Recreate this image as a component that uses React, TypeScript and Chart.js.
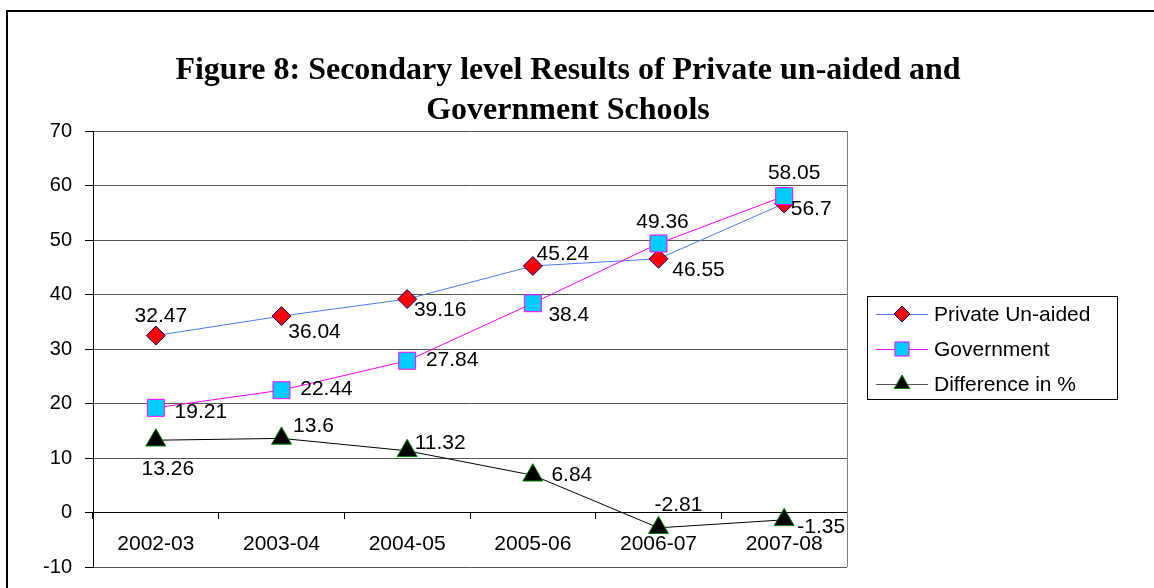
import React, { useEffect, useRef } from 'react';
import { Chart, registerables } from 'chart.js';
import { drawPoint } from 'chart.js/helpers';

Chart.register(...registerables);

const titleLines = ['Figure 8: Secondary level Results of Private un-aided and', 'Government Schools'];
const categories = ['2002-03', '2003-04', '2004-05', '2005-06', '2006-07', '2007-08'];
const seriesNames = ['Private Un-aided', 'Government', 'Difference in %'];
const privateUnaided = [32.47, 36.04, 39.16, 45.24, 46.55, 56.7];
const government = [19.21, 22.44, 27.84, 38.4, 49.36, 58.05];
const difference = [13.26, 13.6, 11.32, 6.84, -2.81, -1.35];
const yMin = -10;
const yMax = 70;
const yStep = 10;

// label placement (style only): offsets of each data label from its point
const labelOffsets = [
  [[5, -19], [33, 16], [33, 11], [30, -12], [40, 11], [27, 6]],
  [[45, 4], [45, -1], [45, -1], [36, 12], [4, -21], [10, -23]],
  [[12, 29], [32, -12], [33, -8], [39, 0], [20, -23], [37, 7]],
];

const SANS = '"Liberation Sans", Arial, sans-serif';
const SERIF = '"Liberation Serif", "Times New Roman", serif';

const styles = [
  { line: '#5078F0', fill: '#FF0000', border: '#000080', pointStyle: 'rectRot', radius: 9.5, legendRadius: 8 },
  { line: '#FF00FF', fill: '#00CCFF', border: '#FF00FF', pointStyle: 'rect', radius: 12, legendRadius: 10 },
  { line: '#000000', fill: '#000000', border: '#008000', pointStyle: 'triangle', radius: 11.5, legendRadius: 9 },
];

const decorPlugin = {
  id: 'decor',
  beforeDraw(chart: any) {
    const ctx = chart.ctx;
    ctx.save();
    ctx.strokeStyle = '#000';
    ctx.lineWidth = 2;
    ctx.beginPath();
    ctx.moveTo(7, 600);
    ctx.lineTo(7, 11);
    ctx.lineTo(1160, 11);
    ctx.stroke();
    // title
    ctx.fillStyle = '#000';
    ctx.font = 'bold 32px ' + SERIF;
    ctx.textAlign = 'center';
    ctx.textBaseline = 'alphabetic';
    ctx.fillText(titleLines[0], 568, 79);
    ctx.fillText(titleLines[1], 568, 119);
    ctx.restore();
  },
  afterDraw(chart: any) {
    const ctx = chart.ctx;
    const a = chart.chartArea;
    ctx.save();
    ctx.strokeStyle = '#808080';
    ctx.lineWidth = 1;
    ctx.beginPath();
    ctx.moveTo(Math.round(a.right) + 0.5, a.top);
    ctx.lineTo(Math.round(a.right) + 0.5, a.bottom);
    ctx.stroke();

    // data labels
    ctx.fillStyle = '#000';
    ctx.font = '21px ' + SANS;
    ctx.textAlign = 'center';
    ctx.textBaseline = 'middle';
    chart.data.datasets.forEach((ds: any, di: number) => {
      const meta = chart.getDatasetMeta(di);
      meta.data.forEach((pt: any, i: number) => {
        const off = labelOffsets[di][i];
        ctx.fillText(String(ds.data[i]), pt.x + off[0], pt.y + off[1]);
      });
    });

    // legend
    const lx = 867, ly = 296, lw = 250, lh = 103;
    ctx.strokeStyle = '#000';
    ctx.lineWidth = 1;
    ctx.strokeRect(lx + 0.5, ly + 0.5, lw, lh);
    const rows = [314, 349, 384];
    ctx.font = '21px ' + SANS;
    ctx.textAlign = 'left';
    ctx.textBaseline = 'middle';
    seriesNames.forEach((name, i) => {
      const s = styles[i];
      const y = rows[i];
      ctx.strokeStyle = i === 2 ? '#555' : s.line;
      ctx.lineWidth = 1;
      ctx.beginPath();
      ctx.moveTo(876, y + 0.5);
      ctx.lineTo(928, y + 0.5);
      ctx.stroke();
      ctx.fillStyle = s.fill;
      ctx.strokeStyle = s.border;
      drawPoint(ctx, { pointStyle: s.pointStyle, radius: s.legendRadius, rotation: 0, borderWidth: 1 } as any, 902, y);
      ctx.fillStyle = '#000';
      ctx.fillText(name, 934, y + 1);
    });
    ctx.restore();
  },
};

export default function App() {
  const ref = useRef<HTMLCanvasElement | null>(null);
  useEffect(() => {
    if (!ref.current) return;
    const seriesData = [privateUnaided, government, difference];
    const chart = new Chart(ref.current, {
      type: 'line',
      data: {
        labels: categories,
        datasets: seriesData.map((d, i) => ({
          label: seriesNames[i],
          data: d,
          borderColor: styles[i].line,
          borderWidth: 1,
          backgroundColor: styles[i].fill,
          pointBackgroundColor: styles[i].fill,
          pointBorderColor: styles[i].border,
          pointBorderWidth: 1,
          pointStyle: styles[i].pointStyle as any,
          pointRadius: styles[i].radius,
          tension: 0,
          fill: false,
          order: 3 - i,
        })),
      },
      options: {
        animation: false,
        responsive: true,
        maintainAspectRatio: false,
        layout: { padding: { left: 0, right: 307, top: 131, bottom: 18 } },
        plugins: { legend: { display: false }, title: { display: false }, tooltip: { enabled: false } },
        scales: {
          x: {
            type: 'category',
            position: { y: 0 } as any,
            offset: true,
            grid: { display: true, drawOnChartArea: false, drawTicks: true, tickLength: 6, offset: true, color: '#000', tickColor: '#000' },
            border: { display: true, color: '#000', width: 1 },
            ticks: { color: '#000', font: { family: SANS, size: 21 }, padding: 13, maxRotation: 0, autoSkip: false },
          },
          y: {
            min: yMin,
            max: yMax,
            afterFit: (s: any) => { s.width = 93; },
            grid: { color: '#555555', tickColor: '#000', tickLength: 8, drawTicks: true },
            border: { display: true, color: '#000', width: 1 },
            ticks: { stepSize: yStep, color: '#000', font: { family: SANS, size: 20 }, padding: 13 },
          },
        },
      },
      plugins: [decorPlugin],
    });
    return () => chart.destroy();
  }, []);
  return (
    <div style={{ position: 'absolute', left: 0, top: 0, width: 1154, height: 588, overflow: 'hidden', background: '#fff' }}>
      <div style={{ position: 'relative', width: 1154, height: 592 }}>
        <canvas ref={ref} />
      </div>
    </div>
  );
}
